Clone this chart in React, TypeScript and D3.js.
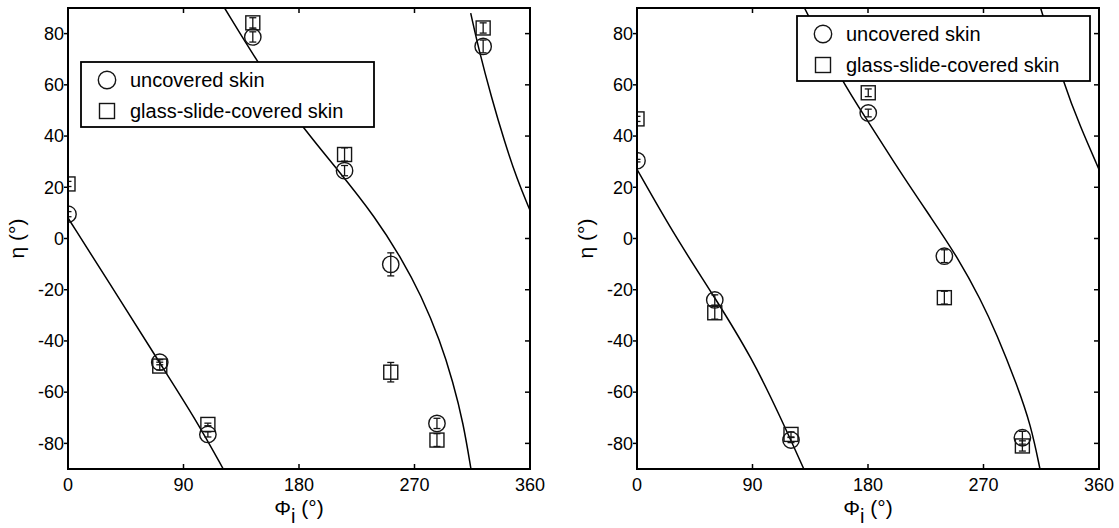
import React from 'react';
import * as d3 from 'd3';

const phiTicks = [0, 90, 180, 270, 360];
const etaTicks = [-80, -60, -40, -20, 0, 20, 40, 60, 80];

// Left panel measurements
const phiA = [0, 71.5, 109, 144, 215.5, 251.5, 287.5, 323.5];
const uncoveredEtaA = [9.5, -48.3, -76.5, 78.7, 26.5, -10.1, -72.2, 75];
const uncoveredErrA = [1, 1, 1, 2, 2, 4.5, 2, 2.5];
const coveredEtaA = [21.3, -49.8, -72.6, 84.2, 32.8, -52.2, -78.7, 82.2];
const coveredErrA = [1, 1.5, 0.5, 2, 2.6, 3.8, 2.5, 2];

// Right panel measurements
const phiB = [0, 60.6, 120, 180.2, 239.5, 300.3];
const uncoveredEtaB = [30.4, -24, -78.7, 49, -6.9, -77.8];
const uncoveredErrB = [0.5, 2, 1, 1.5, 2.5, 2.5];
const coveredEtaB = [46.7, -29, -76.5, 56.9, -23.1, -81];
const coveredErrB = [1, 2.5, 1, 1.5, 2.5, 2];

// Model curves (wrapped segments), left panel
const fitA1Phi = [0, 40, 72, 100, 121];
const fitA1Eta = [8, -23.5, -49, -71, -90];
const fitA2Phi = [122, 150, 180, 210, 240, 260, 275, 290, 300, 308, 314];
const fitA2Eta = [90, 67, 45, 27, 8, -8, -22, -40, -56, -72, -90];
const fitA3Phi = [313.8, 320, 330, 340, 350, 360];
const fitA3Eta = [88, 74, 55, 38, 23, 11];

// Model curves, right panel
const fitB1Phi = [0, 30, 60, 90, 112, 130];
const fitB1Eta = [27, 0.5, -22.5, -47, -70, -90];
const fitB2Phi = [130.5, 160, 180, 205, 230, 250, 268, 280, 296, 307, 314];
const fitB2Eta = [90, 61, 45.8, 26, 7.5, -7.5, -24, -37, -57, -73, -90];
const fitB3Phi = [314.5, 332.8, 345.3, 360];
const fitB3Eta = [90, 60, 43.8, 27];

const legendLabels = ['uncovered skin', 'glass-slide-covered skin'];

const FONT = '"Liberation Sans", Arial, Helvetica, sans-serif';
const TOP = 8;
const BOTTOM = 469;

type PanelProps = {
  id: string;
  x0: number;
  x1: number;
  phi: number[];
  uEta: number[];
  uErr: number[];
  cEta: number[];
  cErr: number[];
  fits: { phi: number[]; eta: number[] }[];
  legendX: number;
  legendY: number;
};

function Panel(p: PanelProps) {
  const x = d3.scaleLinear().domain([0, 360]).range([p.x0, p.x1]);
  const y = d3.scaleLinear().domain([-90, 90]).range([BOTTOM, TOP]);
  const line = d3
    .line<[number, number]>()
    .x((d) => x(d[0]))
    .y((d) => y(d[1]))
    .curve(d3.curveBasis);
  const mk = '#151515';
  const errBar = (cx: number, v: number, e: number, key: string) => (
    <g key={key} stroke={mk} strokeWidth={1.3}>
      <line x1={cx} x2={cx} y1={y(v + e)} y2={y(v - e)} />
      <line x1={cx - 3.5} x2={cx + 3.5} y1={y(v + e)} y2={y(v + e)} />
      <line x1={cx - 3.5} x2={cx + 3.5} y1={y(v - e)} y2={y(v - e)} />
    </g>
  );
  const cx = (p.x0 + p.x1) / 2;
  const cy = (TOP + BOTTOM) / 2;
  return (
    <g>
      <defs>
        <clipPath id={p.id}>
          <rect x={p.x0} y={TOP} width={p.x1 - p.x0} height={BOTTOM - TOP} />
        </clipPath>
      </defs>
      <g clipPath={`url(#${p.id})`}>
        {p.fits.map((f, i) => (
          <path
            key={i}
            d={line(f.phi.map((v, j) => [v, f.eta[j]] as [number, number])) || ''}
            fill="none"
            stroke="#000"
            strokeWidth={1.5}
          />
        ))}
        {p.phi.map((v, i) => (
          <g key={'u' + i}>
            <circle cx={x(v)} cy={y(p.uEta[i])} r={8.2} fill="none" stroke={mk} strokeWidth={1.4} />
            {errBar(x(v), p.uEta[i], p.uErr[i], 'ue' + i)}
          </g>
        ))}
        {p.phi.map((v, i) => (
          <g key={'c' + i}>
            <rect x={x(v) - 7} y={y(p.cEta[i]) - 7} width={14} height={14} fill="none" stroke={mk} strokeWidth={1.4} />
            {errBar(x(v), p.cEta[i], p.cErr[i], 'ce' + i)}
          </g>
        ))}
      </g>
      {/* frame */}
      <rect x={p.x0} y={TOP} width={p.x1 - p.x0} height={BOTTOM - TOP} fill="none" stroke="#000" strokeWidth={2} />
      {/* x ticks */}
      {phiTicks.map((t) => (
        <g key={'xt' + t}>
          <line x1={x(t)} x2={x(t)} y1={BOTTOM} y2={BOTTOM - 5} stroke="#000" strokeWidth={1.5} />
          <line x1={x(t)} x2={x(t)} y1={TOP} y2={TOP + 5} stroke="#000" strokeWidth={1.5} />
          <text x={x(t)} y={BOTTOM + 22} textAnchor="middle" fontFamily={FONT} fontSize={18}>
            {t}
          </text>
        </g>
      ))}
      {/* y ticks */}
      {etaTicks.map((t) => (
        <g key={'yt' + t}>
          <line x1={p.x0 - 4} x2={p.x0} y1={y(t)} y2={y(t)} stroke="#000" strokeWidth={1.5} />
          <line x1={p.x1 - 5} x2={p.x1} y1={y(t)} y2={y(t)} stroke="#000" strokeWidth={1.5} />
          <text x={p.x0 - 4} y={y(t)} dy="0.35em" textAnchor="end" fontFamily={FONT} fontSize={18}>
            {t}
          </text>
        </g>
      ))}
      {/* axis labels */}
      <text x={cx} y={515} textAnchor="middle" fontFamily={FONT} fontSize={21}>
        Φ<tspan dy={8} fontSize={20}>i</tspan>
        <tspan dy={-8}> (°)</tspan>
      </text>
      <text
        transform={`translate(${p.x0 - 44},${cy}) rotate(-90)`}
        textAnchor="middle"
        fontFamily={FONT}
        fontSize={21}
      >
        η (°)
      </text>
      {/* legend */}
      <g transform={`translate(${p.legendX},${p.legendY})`}>
        <rect x={0} y={0} width={293} height={65} fill="#fff" stroke="#000" strokeWidth={1.8} />
        <circle cx={26} cy={18} r={8.7} fill="none" stroke={mk} strokeWidth={1.4} />
        <rect x={26 - 7.5} y={49 - 7.5} width={15} height={15} fill="none" stroke={mk} strokeWidth={1.4} />
        <text x={49} y={18} dy="0.35em" fontFamily={FONT} fontSize={20}>
          {legendLabels[0]}
        </text>
        <text x={49} y={49} dy="0.35em" fontFamily={FONT} fontSize={20}>
          {legendLabels[1]}
        </text>
      </g>
    </g>
  );
}

export default function App() {
  return (
    <svg
      width={1119}
      height={528}
      style={{ position: 'absolute', left: 0, top: 0, background: '#fff' }}
    >
      <rect x={0} y={0} width={1119} height={528} fill="#fff" />
      <Panel
        id="clipA"
        x0={68}
        x1={530}
        phi={phiA}
        uEta={uncoveredEtaA}
        uErr={uncoveredErrA}
        cEta={coveredEtaA}
        cErr={coveredErrA}
        fits={[
          { phi: fitA1Phi, eta: fitA1Eta },
          { phi: fitA2Phi, eta: fitA2Eta },
          { phi: fitA3Phi, eta: fitA3Eta },
        ]}
        legendX={81}
        legendY={62}
      />
      <Panel
        id="clipB"
        x0={637}
        x1={1099}
        phi={phiB}
        uEta={uncoveredEtaB}
        uErr={uncoveredErrB}
        cEta={coveredEtaB}
        cErr={coveredErrB}
        fits={[
          { phi: fitB1Phi, eta: fitB1Eta },
          { phi: fitB2Phi, eta: fitB2Eta },
          { phi: fitB3Phi, eta: fitB3Eta },
        ]}
        legendX={797}
        legendY={16}
      />
    </svg>
  );
}
